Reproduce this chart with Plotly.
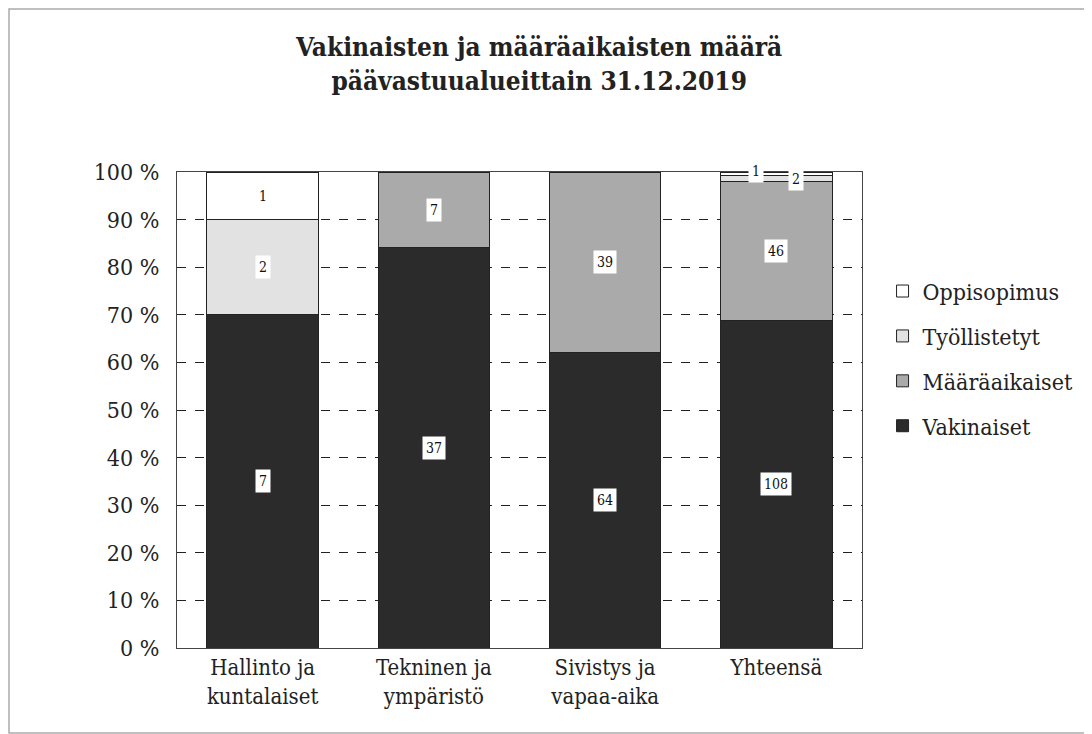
import plotly.graph_objects as go

categories = ["Hallinto ja<br>kuntalaiset", "Tekninen ja<br>ympäristö", "Sivistys ja<br>vapaa-aika", "Yhteensä"]
vakinaiset = [7, 37, 64, 108]
maaraaikaiset = [0, 7, 39, 46]
tyollistetyt = [2, 0, 0, 2]
oppisopimus = [1, 0, 0, 1]

series = [
    ("Vakinaiset", vakinaiset, "#2b2b2b"),
    ("Määräaikaiset", maaraaikaiset, "#aaaaaa"),
    ("Työllistetyt", tyollistetyt, "#e2e2e2"),
    ("Oppisopimus", oppisopimus, "#ffffff"),
]

FONT = "DejaVu Serif Condensed, DejaVu Serif"

fig = go.Figure()
for rank, (name, vals, col) in enumerate(series):
    fig.add_trace(go.Bar(
        x=categories, y=vals, name=name, legendgroup=name,
        legendrank=100 - rank,
        marker=dict(color=col, line=dict(color="#222222", width=1)),
    ))

totals = [sum(s[1][i] for s in series) for i in range(len(categories))]
for i, cat in enumerate(categories):
    base = 0.0
    for k, (name, vals, col) in enumerate(series):
        v = vals[i]
        if v == 0:
            continue
        pct = v / totals[i] * 100
        mid = base + pct / 2
        base += pct
        xshift = 0
        yshift = 0
        if pct < 3:
            xshift = 20 if name == "Työllistetyt" else -20
            yshift = -1 if name == "Työllistetyt" else 3
        fig.add_annotation(
            x=cat, y=mid, text=str(v), showarrow=False,
            xshift=xshift, yshift=yshift,
            font=dict(family=FONT, size=14, color="#111111"),
            bgcolor="white", borderpad=3,
        )

W, H = 1084, 726
L, T = 169, 164
R, B = 230, 86
pw = W - L - R
ph = H - T - B

fig.update_layout(
    barmode="stack", barnorm="percent", bargap=0.35,
    width=W, height=H,
    margin=dict(l=L, r=R, t=T, b=B),
    paper_bgcolor="white", plot_bgcolor="white",
    title=dict(
        text="<b>Vakinaisten ja määräaikaisten määrä<br>päävastuualueittain 31.12.2019</b>",
        x=0.49, xanchor="center", y=0.934, yanchor="top",
        font=dict(family=FONT, size=26, color="#222222"),
    ),
    font=dict(family=FONT, size=19, color="#222222"),
    legend=dict(
        x=1.03, y=0.795, xanchor="left", yanchor="top",
        traceorder="grouped", tracegroupgap=12,
        font=dict(family=FONT, size=23, color="#222222"),
        itemwidth=30,
    ),
    showlegend=True,
)
fig.update_yaxes(
    range=[0, 100], dtick=10, ticksuffix=" %",
    showgrid=True, gridcolor="#222222", griddash="dash", gridwidth=1,
    showline=True, linecolor="#444444", linewidth=1, mirror=True,
    ticks="", zeroline=False, ticklabelstandoff=12,
    tickfont=dict(family=FONT, size=23, color="#222222"),
)
fig.update_xaxes(
    showline=True, linecolor="#444444", linewidth=1, mirror=True,
    ticks="", tickfont=dict(family=FONT, size=22, color="#222222"),
)
fig.add_shape(type="rect", xref="paper", yref="paper",
              x0=(1 - L) / pw, x1=(W - 1 - L) / pw,
              y0=(T + ph - (H - 1)) / ph, y1=(T + ph - 1) / ph,
              line=dict(color="#aaaaaa", width=1.5), fillcolor="rgba(0,0,0,0)")

fig.write_html("out.html")
